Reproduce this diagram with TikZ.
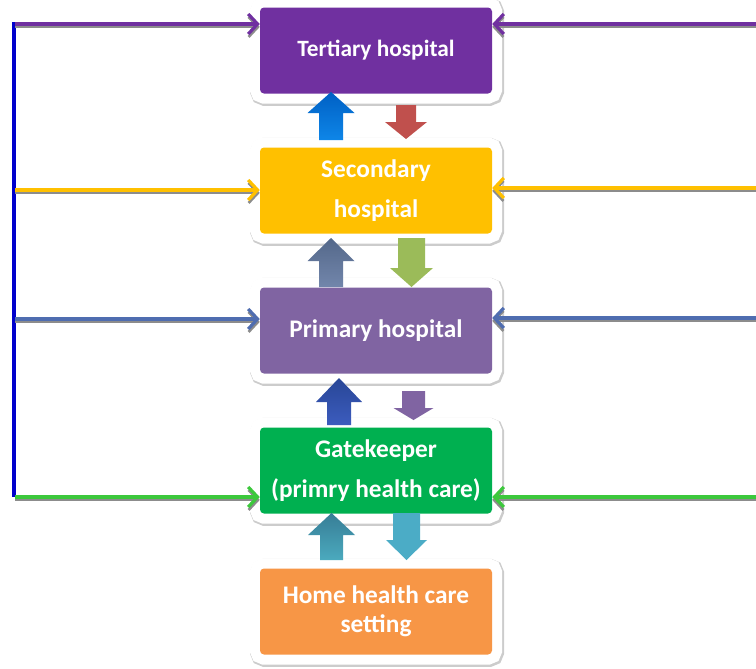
\documentclass[tikz,border=0pt]{standalone}
\usepackage{fontspec}
\setmainfont{Carlito}
\usepackage{tikz}
\usepackage{xcolor}
\usetikzlibrary{arrows.meta,positioning,calc}

\definecolor{tertpurple}{RGB}{112,48,160}
\definecolor{secorange}{RGB}{255,192,0}
\definecolor{primviolet}{RGB}{128,100,162}
\definecolor{gategreen}{RGB}{0,176,80}
\definecolor{homeorange}{RGB}{247,150,70}
\definecolor{linkblue}{RGB}{0,0,204}
\definecolor{primline}{RGB}{79,109,176}
\definecolor{gateline}{RGB}{60,200,60}

% block arrow: x, tail y, head base y, tip y, shaft half, head half, top colour, bottom colour
\newcommand{\blkarrow}[8]{%
    \shade[top color=#7, bottom color=#8]
        (#1-#5,#2) -- (#1-#5,#3) -- (#1-#6,#3) -- (#1,#4)
        -- (#1+#6,#3) -- (#1+#5,#3) -- (#1+#5,#2) -- cycle;
}

\tikzset{
    levelbox/.style={rectangle, rounded corners=3pt, minimum width=174pt, minimum height=64.5pt,
        inner sep=2pt, text=white, align=center, font=\bfseries\fontsize{19}{30}\selectfont,
        preaction={draw=black!20, line width=16.5pt, transform canvas={shift={(0.8pt,-1pt)}}},
        preaction={draw=white, line width=15pt}},
    referline/.style={line width=2.4pt, -{Straight Barb[length=7pt,width=15pt]},
        preaction={draw=black!45, line width=2pt, transform canvas={yshift=-2.2pt}}}
}

\begin{document}
\begin{tikzpicture}[x=0.75pt, y=-0.75pt]
    \useasboundingbox (0,0) rectangle (756,668);

    % Levels of care
    \node[levelbox, fill=tertpurple, font=\bfseries\fontsize{17.5}{30}\selectfont] (tert) at (376,50.5) {Tertiary hospital};
    \node[levelbox, fill=secorange] (sec) at (376,190.5) {Secondary\\hospital};
    \node[levelbox, fill=primviolet] (prim) at (376,330.5) {Primary hospital};
    \node[levelbox, fill=gategreen] (gate) at (376,470.5) {Gatekeeper\\(primry health care)};
    \node[levelbox, fill=homeorange, font=\bfseries\fontsize{19}{22}\selectfont] (home) at (376,611.5) {Home health care\\setting};

    % Referral up and back down
    \blkarrow{331}{140}{113}{92}{12}{23.5}{{rgb,255:red,0;green,96;blue,196}}{{rgb,255:red,14;green,134;blue,232}}
    \blkarrow{406}{105}{122}{139}{10}{21}{{rgb,255:red,192;green,80;blue,77}}{{rgb,255:red,192;green,80;blue,77}}
    \blkarrow{331}{287}{261}{238}{12}{23.5}{{rgb,255:red,84;green,104;blue,138}}{{rgb,255:red,114;green,134;blue,171}}
    \blkarrow{411.5}{238}{268}{287}{13.5}{21.5}{{rgb,255:red,155;green,187;blue,89}}{{rgb,255:red,155;green,187;blue,89}}
    \blkarrow{339}{425}{402}{378}{12}{23}{{rgb,255:red,40;green,70;blue,150}}{{rgb,255:red,60;green,92;blue,190}}
    \blkarrow{413.5}{391}{408}{420}{11.5}{20}{{rgb,255:red,128;green,100;blue,162}}{{rgb,255:red,128;green,100;blue,162}}
    \blkarrow{331.5}{560}{535}{513}{11.5}{23.5}{{rgb,255:red,55;green,125;blue,150}}{{rgb,255:red,75;green,170;blue,190}}
    \blkarrow{406.5}{513}{540}{560}{13.5}{20.5}{{rgb,255:red,75;green,172;blue,198}}{{rgb,255:red,75;green,172;blue,198}}

    % Left side feed
    \coordinate (ltop) at (14,22);
    \coordinate (lbot) at (14,497);
    \draw[linkblue, line width=3pt] (ltop) -- (lbot);
    \coordinate (l1) at (15,24);
    \coordinate (l2) at (15,190);
    \coordinate (l3) at (15,319);
    \coordinate (l4) at (15,497);
    \draw[referline, tertpurple] (l1) -- (l1 -| tert.west);
    \draw[referline, secorange] (l2) -- (l2 -| sec.west);
    \draw[referline, primline] (l3) -- (l3 -| prim.west);
    \draw[referline, gateline] (l4) -- (l4 -| gate.west);

    % Right side feed
    \coordinate (r1) at (756,24);
    \coordinate (r2) at (756,188);
    \coordinate (r3) at (756,318);
    \coordinate (r4) at (756,497);
    \draw[referline, tertpurple] (r1) -- (r1 -| tert.east);
    \draw[referline, secorange] (r2) -- (r2 -| sec.east);
    \draw[referline, primline] (r3) -- (r3 -| prim.east);
    \draw[referline, gateline] (r4) -- (r4 -| gate.east);
\end{tikzpicture}
\end{document}
